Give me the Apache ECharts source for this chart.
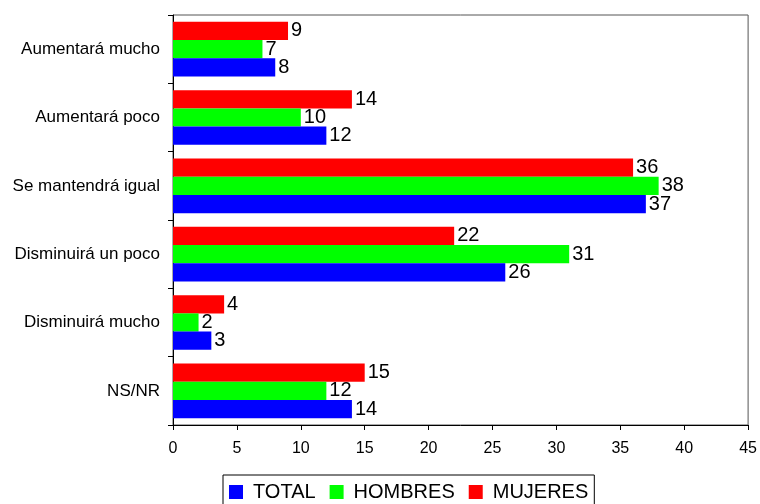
<!DOCTYPE html>
<html>
<head>
<meta charset="utf-8">
<script src="https://cdn.jsdelivr.net/npm/echarts@6/dist/echarts.min.js"></script>
<style>
  html, body { margin: 0; padding: 0; background: #fff; }
  #chart { width: 760px; height: 504px; }
</style>
</head>
<body>
<div id="chart"></div>
<script>
const categories = ["Aumentará mucho", "Aumentará poco", "Se mantendrá igual", "Disminuirá un poco", "Disminuirá mucho", "NS/NR"];
const total = [8, 12, 37, 26, 3, 14];
const hombres = [7, 10, 38, 31, 2, 12];
const mujeres = [9, 14, 36, 22, 4, 15];

const font = "Arial, 'Liberation Sans', sans-serif";

function bar(name, data, color) {
  return {
    name: name,
    type: "bar",
    data: data,
    barGap: "0%",
    barCategoryGap: "20%",
    itemStyle: { color: color },
    label: {
      show: true,
      position: "right",
      distance: 3,
      color: "#000",
      fontFamily: font,
      fontSize: 20,
    },
  };
}

const chart = echarts.init(document.getElementById("chart"));
chart.setOption({
  animation: false,
  textStyle: { fontFamily: font },
  grid: {
    left: 173,
    right: 10,
    top: 15,
    bottom: 79,
    show: true,
    borderColor: "#555",
    borderWidth: 1,
  },
  xAxis: {
    type: "value",
    min: 0,
    max: 45,
    interval: 5,
    splitLine: { show: false },
    axisLine: { show: true, lineStyle: { color: "#000" } },
    axisTick: { show: true, length: 5, lineStyle: { color: "#000" } },
    axisLabel: { color: "#000", fontSize: 16, margin: 16 },
  },
  yAxis: {
    type: "category",
    data: categories,
    inverse: true,
    axisLine: { show: true, lineStyle: { color: "#000" } },
    axisTick: { show: true, length: 5, lineStyle: { color: "#000" } },
    axisLabel: { color: "#000", fontSize: 17, margin: 13 },
  },
  legend: {
    top: 475,
    left: 223,
    itemWidth: 14,
    itemHeight: 14,
    itemGap: 14,
    padding: [7, 6, 10, 6],
    borderColor: "#000",
    borderWidth: 1,
    icon: "rect",
    textStyle: { fontSize: 20, color: "#000", padding: [0, 0, 0, 5] },
    data: ["TOTAL", "HOMBRES", "MUJERES"],
  },
  series: [
    bar("MUJERES", mujeres, "#ff0000"),
    bar("HOMBRES", hombres, "#00ff00"),
    bar("TOTAL", total, "#0000ff"),
  ],
});
</script>
</body>
</html>
